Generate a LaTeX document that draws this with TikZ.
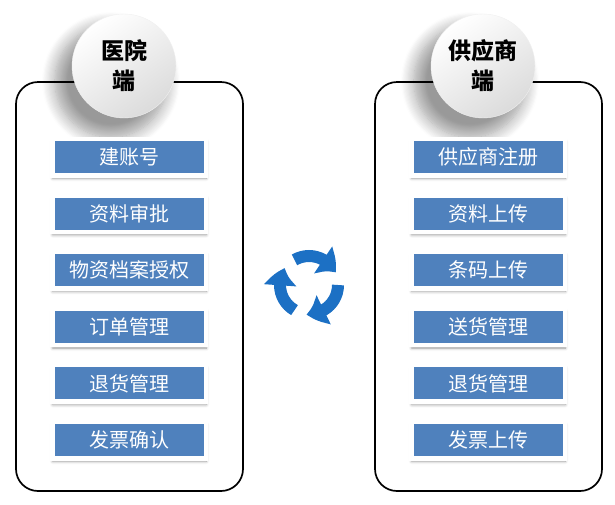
\documentclass[tikz,border=0pt]{standalone}
\usepackage{fontspec}
\setmainfont{Noto Sans CJK SC}
\usetikzlibrary{shadows.blur,arrows.meta,bending,calc}
\definecolor{itemblue}{RGB}{79,129,189}
\definecolor{cycblue}{RGB}{28,112,196}
\tikzset{
  panel/.style={draw=black, line width=1.7pt, rounded corners=22pt, minimum width=227pt, minimum height=409pt},
  hub/.style={circle, minimum size=104pt, inner sep=0pt, align=center, font=\fontsize{23}{30}\selectfont\bfseries, top color=white, bottom color=black!14, shading angle=35, draw=black!6,
    blur shadow={shadow xshift=-12pt, shadow yshift=-14pt, shadow scale=1.08, shadow blur radius=12pt, shadow blur steps=12, shadow opacity=40}},
  item/.style={fill=itemblue, draw=white, line width=4.5pt, minimum width=153.5pt, minimum height=36.5pt, text=white, font=\fontsize{20}{20}\selectfont,
    blur shadow={shadow xshift=0.5pt, shadow yshift=-3pt, shadow blur radius=3pt, shadow opacity=40}},
  cycarrow/.style={cycblue, line width=12pt, -{Triangle[length=18pt,width=31pt,bend]}}
}
\begin{document}
\begin{tikzpicture}[x=1pt,y=-1pt]
\useasboundingbox (0,0) rectangle (615,504);
\node[panel] (hospbox) at (129.5,286.5) {};
\node[panel] (suppbox) at (488.5,286.5) {};
\node[hub] (hosp) at (124,66) {医院\\端};
\node[hub] (supp) at (483,66) {供应商\\端};
\foreach \t [count=\i] in {建账号,资料审批,物资档案授权,订单管理,退货管理,发票确认}
  \node[item] (h\i) at (129,100.4+56.6*\i) {\t};
\foreach \t [count=\i] in {供应商注册,资料上传,条码上传,送货管理,退货管理,发票上传}
  \node[item] (s\i) at (488,100.4+56.6*\i) {\t};
\coordinate (cyc) at (309,285);
\foreach \a in {240,0,120}
  \draw[cycarrow] ($(cyc)+(\a:29)$) arc[start angle=\a, end angle=\a+95, radius=29];
\end{tikzpicture}
\end{document}
